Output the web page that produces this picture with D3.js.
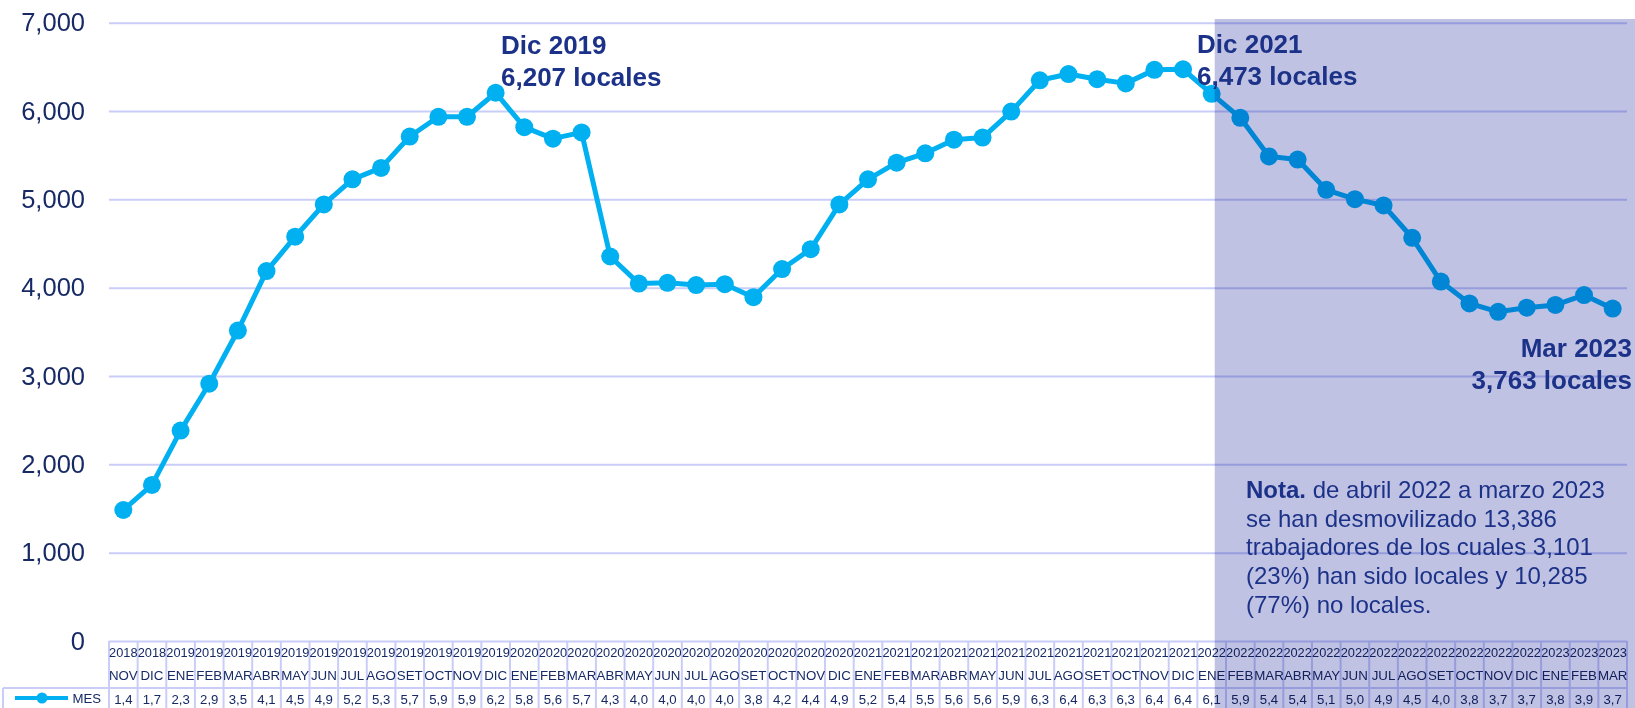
<!DOCTYPE html>
<html>
<head>
<meta charset="utf-8">
<script src="https://cdn.jsdelivr.net/npm/d3@7"></script>
<style>
  body { margin: 0; background: #fff; }
  svg { display: block; font-family: "Liberation Sans", Arial, sans-serif; }
</style>
</head>
<body>
<div id="chart"></div>
<script>
const years = ["2018","2018",
  "2019","2019","2019","2019","2019","2019","2019","2019","2019","2019","2019","2019",
  "2020","2020","2020","2020","2020","2020","2020","2020","2020","2020","2020","2020",
  "2021","2021","2021","2021","2021","2021","2021","2021","2021","2021","2021","2021",
  "2022","2022","2022","2022","2022","2022","2022","2022","2022","2022","2022","2022",
  "2023","2023","2023"];
const months = ["NOV","DIC",
  "ENE","FEB","MAR","ABR","MAY","JUN","JUL","AGO","SET","OCT","NOV","DIC",
  "ENE","FEB","MAR","ABR","MAY","JUN","JUL","AGO","SET","OCT","NOV","DIC",
  "ENE","FEB","MAR","ABR","MAY","JUN","JUL","AGO","SET","OCT","NOV","DIC",
  "ENE","FEB","MAR","ABR","MAY","JUN","JUL","AGO","SET","OCT","NOV","DIC",
  "ENE","FEB","MAR"];
// trabajadores locales por mes
const locales = [1483, 1767,
  2382, 2913, 3515, 4188, 4577, 4943, 5227, 5356, 5711, 5935, 5935, 6207,
  5817, 5687, 5758, 4353, 4046, 4055, 4030, 4040, 3892, 4211, 4436, 4943,
  5227, 5415, 5521, 5675, 5699, 5994, 6348, 6419, 6360, 6313, 6466, 6473,
  6195, 5923, 5486, 5451, 5108, 5002, 4931, 4565, 4069, 3822, 3727, 3774,
  3805, 3917, 3763];
const yTicks = [0, 1000, 2000, 3000, 4000, 5000, 6000, 7000];
const shadeFrom = 38; // ENE 2022
const notaLines = [
  "de abril 2022 a marzo 2023",
  "se han desmovilizado 13,386",
  "trabajadores de los cuales 3,101",
  "(23%) han sido locales y 10,285",
  "(77%) no locales."
];

const width = 1635, height = 708;
const navy = "#172a66", lineBlue = "#00b0f0", grid = "#c9cdf7";

const svg = d3.select("#chart").append("svg")
    .attr("width", width)
    .attr("height", height);

const x = d3.scaleBand()
    .domain(d3.range(locales.length))
    .range([109, 1627]);
const bw = x.bandwidth();
const cx = i => x(i) + bw / 2;

const y = d3.scaleLinear()
    .domain([0, 7000])
    .range([641, 22.7]);

// grid + y labels
const yAxis = svg.append("g")
    .attr("transform", "translate(109,0)")
    .call(d3.axisLeft(y)
        .tickValues(yTicks)
        .tickSize(-(1627 - 109))
        .tickPadding(24)
        .tickFormat(d3.format(",")));
yAxis.select(".domain").remove();
yAxis.selectAll(".tick line").attr("stroke", grid).attr("stroke-width", 2);
yAxis.selectAll(".tick text")
    .attr("fill", navy)
    .style("font-size", "25.5px")
    .style("font-family", "'Liberation Sans', Arial, sans-serif");

// data table
const table = svg.append("g").attr("font-size", 12.8).attr("fill", navy);
const tTop = 641, tMid = 688, tBot = 708;

table.selectAll(".vline")
    .data(d3.range(locales.length + 1))
    .join("line")
    .attr("class", "vline")
    .attr("x1", i => i < locales.length ? x(i) : x(i - 1) + bw)
    .attr("x2", i => i < locales.length ? x(i) : x(i - 1) + bw)
    .attr("y1", tTop).attr("y2", tBot)
    .attr("stroke", grid).attr("stroke-width", 2);

table.append("line")
    .attr("x1", 3).attr("x2", 1627)
    .attr("y1", tMid).attr("y2", tMid)
    .attr("stroke", grid).attr("stroke-width", 2);
table.append("line")
    .attr("x1", 3).attr("x2", 3)
    .attr("y1", tMid).attr("y2", tBot)
    .attr("stroke", grid).attr("stroke-width", 2);

table.selectAll(".yr")
    .data(years)
    .join("text")
    .attr("class", "yr")
    .attr("x", (d, i) => cx(i))
    .attr("y", 657)
    .attr("text-anchor", "middle")
    .text(d => d);

table.selectAll(".mo")
    .data(months)
    .join("text")
    .attr("class", "mo")
    .attr("x", (d, i) => cx(i))
    .attr("y", 680)
    .attr("text-anchor", "middle")
    .attr("font-size", 13.3)
    .text(d => d);

table.selectAll(".val")
    .data(locales)
    .join("text")
    .attr("class", "val")
    .attr("x", (d, i) => cx(i))
    .attr("y", 704)
    .attr("text-anchor", "middle")
    .attr("font-size", 13.2)
    .text(d => (Math.floor(d / 100) / 10).toFixed(1).replace(".", ","));

// legend key in the table
table.append("line")
    .attr("x1", 15).attr("x2", 68)
    .attr("y1", 698).attr("y2", 698)
    .attr("stroke", lineBlue).attr("stroke-width", 4);
table.append("circle")
    .attr("cx", 42).attr("cy", 698).attr("r", 5.5)
    .attr("fill", lineBlue);
table.append("text")
    .attr("x", 101).attr("y", 703)
    .attr("text-anchor", "end")
    .attr("font-size", 13.2)
    .text("MES");

// series
const line = d3.line()
    .x((d, i) => cx(i))
    .y(d => y(d));

svg.append("path")
    .datum(locales)
    .attr("d", line)
    .attr("fill", "none")
    .attr("stroke", lineBlue)
    .attr("stroke-width", 5)
    .attr("stroke-linejoin", "round");

svg.selectAll(".dot")
    .data(locales)
    .join("circle")
    .attr("class", "dot")
    .attr("cx", (d, i) => cx(i))
    .attr("cy", d => y(d))
    .attr("r", 9)
    .attr("fill", lineBlue);

// shaded period
const shadeX = cx(shadeFrom) + 3;
svg.append("rect")
    .attr("x", shadeX)
    .attr("y", 19)
    .attr("width", width - shadeX)
    .attr("height", height - 19)
    .attr("fill", "rgb(191,194,227)")
    .style("mix-blend-mode", "multiply");

// annotations
const notes = svg.append("g")
    .attr("fill", "#1c3288")
    .attr("font-weight", "bold")
    .attr("font-size", 26);

function callout(lines, xPos, yPos, anchor) {
    const t = notes.append("text")
        .attr("x", xPos).attr("y", yPos)
        .attr("text-anchor", anchor);
    lines.forEach((s, k) => {
        t.append("tspan").attr("x", xPos).attr("dy", k ? 32 : 0).text(s);
    });
}
callout(["Dic 2019", "6,207 locales"], 501, 54, "start");
callout(["Dic 2021", "6,473 locales"], 1197, 53, "start");
callout(["Mar 2023", "3,763 locales"], 1632, 357, "end");

const nota = svg.append("text")
    .attr("x", 1246).attr("y", 498)
    .attr("fill", "#1c3288")
    .attr("font-size", 24);
nota.append("tspan").attr("font-weight", "bold").text("Nota.");
nota.append("tspan").text(" " + notaLines[0]);
notaLines.slice(1).forEach(s => {
    nota.append("tspan").attr("x", 1246).attr("dy", 28.7).text(s);
});
</script>
</body>
</html>
